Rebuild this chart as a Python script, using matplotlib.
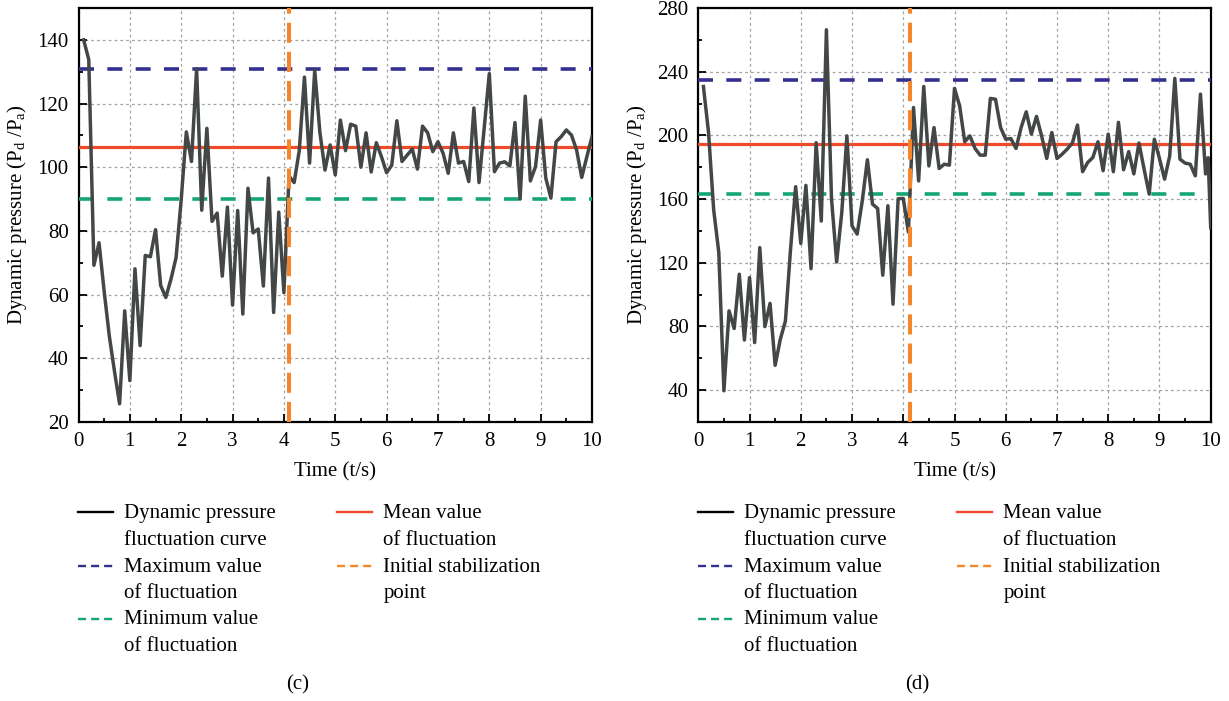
import numpy as np
import matplotlib
matplotlib.use("Agg")
import matplotlib.pyplot as plt
from matplotlib.lines import Line2D
from matplotlib.ticker import MultipleLocator

# ---- data -------------------------------------------------------------
time_c = np.round(np.arange(1, 101) / 10, 2)
pressure_c = [
    140, 133.8, 69.2, 76.3, 61, 47, 36, 25.7, 54.9, 33,
    68.1, 44, 72.3, 71.9, 80.4, 62.9, 59.1, 64.8, 71.6, 89.8,
    111.1, 101.8, 130.9, 86.5, 112.2, 83, 85.6, 65.8, 87.5, 56.7,
    86.4, 53.9, 93.4, 79.4, 80.6, 62.7, 96.6, 54.4, 85.9, 60.6,
    97.2, 95.2, 105.3, 128.3, 101.3, 130.5, 111.1, 99.1, 107, 97.6,
    114.8, 105.2, 113.5, 112.9, 100, 110.8, 98.5, 107.7, 103.3, 98.3,
    100.6, 114.6, 101.8, 103.8, 105.7, 99.4, 112.9, 110.8, 104.9, 108,
    104.4, 98.1, 110.8, 101.3, 101.8, 95.5, 118.6, 95.2, 112.2, 129.4,
    98.6, 101.3, 101.7, 100.4, 114, 90, 122.3, 95.7, 100.2, 114.8,
    96.6, 90.3, 108, 109.6, 111.7, 110.1, 105.4, 96.8, 103.3, 109.6,
]
max_c, mean_c, min_c, stab_c = 131, 106.3, 90, 4.1

time_d = np.append(np.round(np.arange(1, 100) / 10, 2), [9.95, 10.0])
pressure_d = [
    230.7, 201.8, 153.3, 126.5, 39.6, 89.8, 78.7, 112.8, 71.5, 110.7,
    69.9, 129.5, 79.9, 94.5, 55.6, 71.9, 83.4, 128.4, 167.8, 132.2,
    168.6, 116.3, 195.4, 146.2, 266.3, 160, 120.5, 151.5, 199.7, 143.2,
    138, 158.9, 184.7, 156.8, 154.1, 112.2, 155.8, 94, 160.2, 160.4,
    139.3, 217.5, 171.4, 230.7, 180.8, 204.9, 179.2, 181.9, 181.3, 229.5,
    218.6, 196, 199.7, 191.8, 187.6, 187.6, 223.2, 222.7, 204.9, 197.6,
    198, 191.8, 204.9, 214.8, 200.8, 211.9, 199.7, 185.5, 201.8, 185.5,
    188.2, 191.4, 195.2, 206.5, 177.2, 183, 186.1, 196, 177.8, 200.8,
    177.2, 208.2, 178.4, 189.8, 175.8, 195.2, 178.8, 163.1, 197.6, 185.5,
    172.5, 187.1, 235.8, 185.1, 182.6, 181.9, 174.6, 225.9, 175.8, 186, 142,
]
max_d, mean_d, min_d, stab_d = 235, 194.3, 163.5, 4.13

legend_labels = [
    ("Dynamic pressure", "fluctuation curve"),
    ("Maximum value", "of fluctuation"),
    ("Minimum value", "of fluctuation"),
    ("Mean value", "of fluctuation"),
    ("Initial stabilization", "point"),
]

# ---- style ------------------------------------------------------------
plt.rcParams["font.family"] = ["Liberation Serif", "DejaVu Serif"]
plt.rcParams["font.size"] = 15
plt.rcParams["mathtext.fontset"] = "custom"
plt.rcParams["mathtext.rm"] = "Liberation Serif"
plt.rcParams["lines.scale_dashes"] = False

C_CURVE = "#444747"
C_MAX = "#33308f"
C_MIN = "#16a673"
C_MEAN = "#ef4a2a"
C_STAB = "#f6862a"

W, H = 1229, 701
fig = plt.figure(figsize=(W / 100, H / 100), dpi=100)


def px_rect(x0, y0, x1, y1):
    return [x0 / W, 1 - y1 / H, (x1 - x0) / W, (y1 - y0) / H]


def draw_panel(ax, t, p, vmax, vmean, vmin, tstab, ylim, major, minor, yticks_from):
    ax.plot(t, p, color=C_CURVE, lw=2.5, zorder=4, solid_joinstyle="round")
    hdash = (0, (10.8, 9.6))
    ax.axhline(vmax, color=C_MAX, lw=2.6, ls=hdash, zorder=3)
    ax.axhline(vmin, color=C_MIN, lw=2.6, ls=hdash, zorder=3)
    ax.axhline(vmean, color=C_MEAN, lw=2.3, zorder=3)
    ax.axvline(tstab, color=C_STAB, lw=2.9, ls=(0, (14.5, 6.5)), zorder=5)

    ax.set_xlim(0, 10)
    ax.set_ylim(*ylim)
    ax.xaxis.set_major_locator(MultipleLocator(1))
    ax.xaxis.set_minor_locator(MultipleLocator(0.5))
    ax.set_yticks(np.arange(yticks_from, ylim[1] + 0.1, major))
    ax.yaxis.set_minor_locator(MultipleLocator(minor))
    ax.tick_params(which="both", direction="in", top=False, right=False, width=1.3)
    ax.tick_params(which="major", length=5.5, pad=7)
    ax.tick_params(which="minor", length=3.2)
    for s in ax.spines.values():
        s.set_linewidth(1.6)
    ax.grid(True, which="major", color="#a3a3a3", lw=0.9, ls=(0, (2, 2.2)), zorder=0)
    ax.set_axisbelow(True)

    ax.set_xlabel("Time (t/s)")
    ax.set_ylabel(r"Dynamic pressure ($\mathrm{P_d}$ /$\mathrm{P_a}$)")
    ax.xaxis.set_label_coords(0.5, -0.097)
    ax.yaxis.set_label_coords(-0.097, 0.5)


axc = fig.add_axes(px_rect(78.5, 8, 592, 422))
draw_panel(axc, time_c, pressure_c, max_c, mean_c, min_c, stab_c,
           (20, 150), 20, 10, 20)

axd = fig.add_axes(px_rect(698.3, 8, 1210.7, 422))
draw_panel(axd, time_d, pressure_d, max_d, mean_d, min_d, stab_d,
           (20, 280), 40, 20, 40)


# ---- legends and captions ---------------------------------------------
def draw_legend(x0, caption, cap_x):
    handles = [
        dict(color="black", ls="-"),
        dict(color=C_MAX, ls=(0, (5.8, 3.6))),
        dict(color=C_MIN, ls=(0, (5.8, 3.6))),
        dict(color=C_MEAN, ls="-"),
        dict(color=C_STAB, ls=(0, (5.8, 3.6))),
    ]
    col_x = [x0, x0 + 259]
    row_y = [512.3, 565.5, 618.5]
    slots = [(0, 0), (0, 1), (0, 2), (1, 0), (1, 1)]
    for (col, row), style, (l1, l2) in zip(slots, handles, legend_labels):
        hx = col_x[col]
        y = row_y[row]
        fig.add_artist(Line2D([hx / W, (hx + 34.4) / W], [1 - y / H] * 2,
                              transform=fig.transFigure, lw=1.7, **style))
        fig.text((hx + 46) / W, 1 - (y + 6) / H, l1, va="baseline", ha="left")
        fig.text((hx + 46) / W, 1 - (y + 32.3) / H, l2, va="baseline", ha="left")
    fig.text(cap_x / W, 1 - 684.5 / H, caption, ha="center", va="center")


draw_legend(78.3, "(c)", 297.7)
draw_legend(698.3, "(d)", 917.7)

fig.savefig("out.png", dpi=100)
